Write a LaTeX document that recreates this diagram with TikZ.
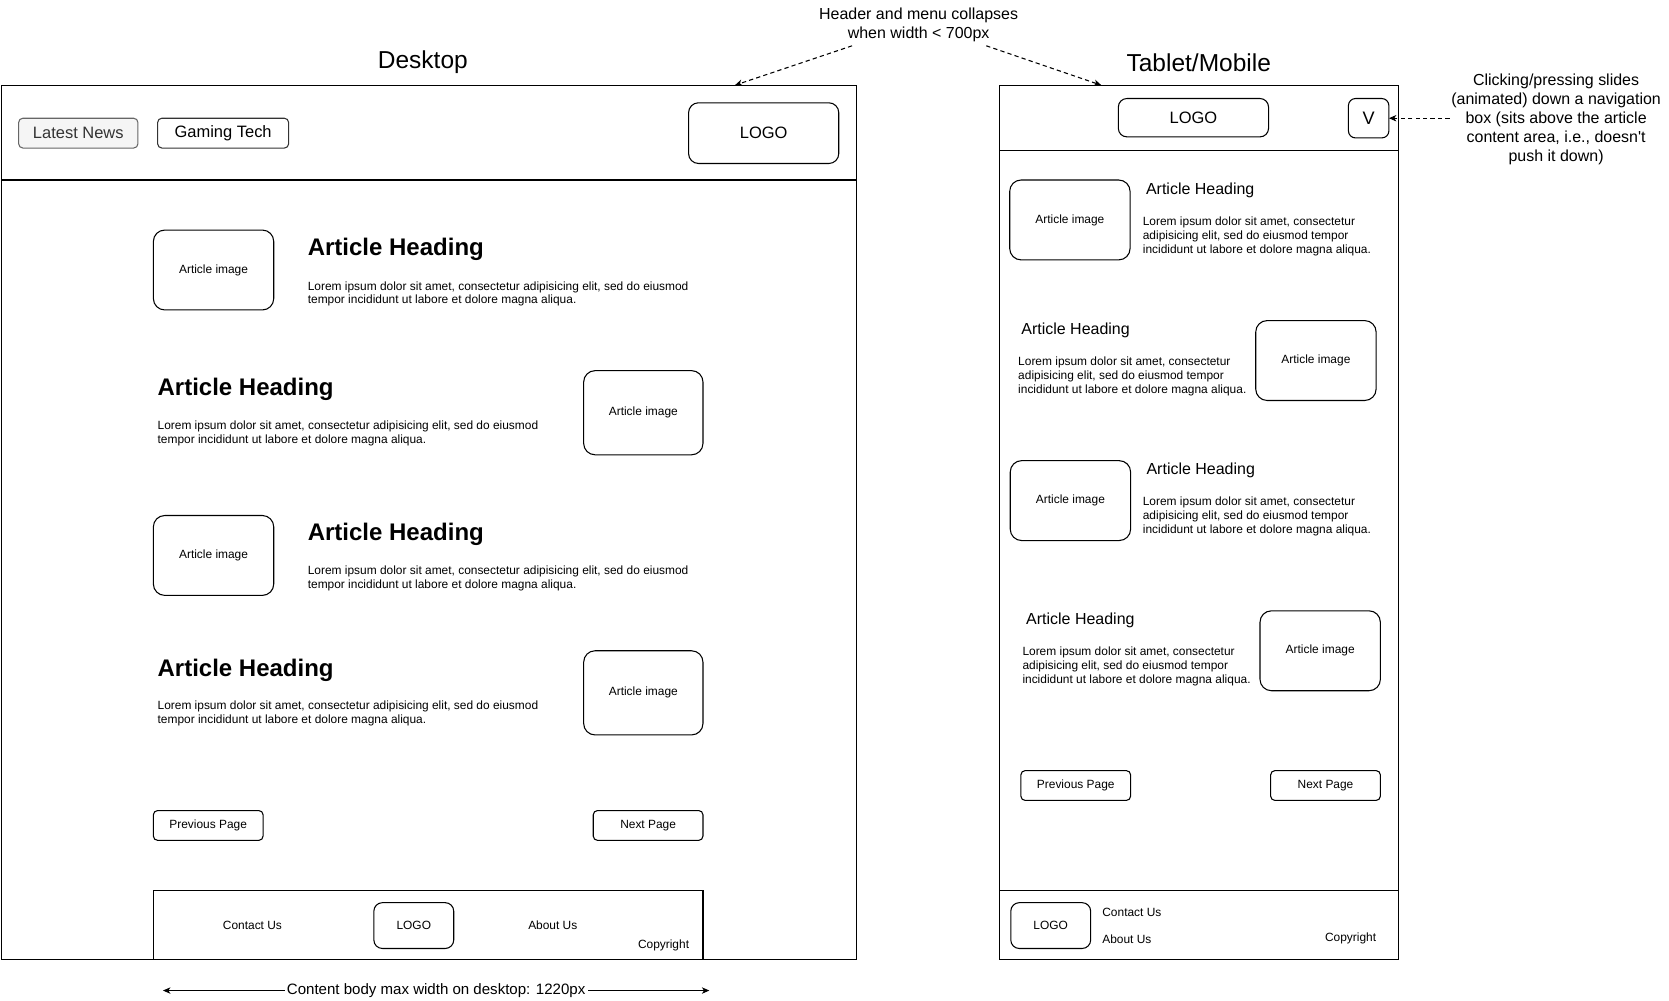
\documentclass[tikz,border=0pt]{standalone}
\usepackage{fontspec}
\setmainfont{Liberation Sans}[Ligatures=TeXOff]
\usetikzlibrary{arrows.meta}
\definecolor{btnfill}{HTML}{F5F5F5}
\definecolor{btnline}{HTML}{666666}
\definecolor{btntext}{HTML}{333333}
\begin{document}
\begin{tikzpicture}[x=0.75pt,y=-0.75pt,
 sz/.style 2 args={minimum width=#1*0.75pt, minimum height=#2*0.75pt},
 every node/.style={inner sep=0pt, outer sep=0pt},
 fsmall/.style={font=\fontsize{8.4pt}{9.75pt}\selectfont},
 fmid/.style={font=\fontsize{11.25pt}{13.5pt}\selectfont},
 fhdr/.style={font=\fontsize{11.6pt}{13.5pt}\selectfont},
 wframe/.style={draw, line width=0.75pt},
 rbox/.style={draw, line width=0.75pt, rounded corners=#1},
 imgbox/.style={rbox=8pt, sz={113}{75}, fsmall},
 pgbtn/.style={rbox=3pt, sz={103}{28}, fsmall},
 lorem/.style={fsmall, align=left, anchor=west},
 dhead/.style={font=\fontsize{16.9pt}{20pt}\selectfont\bfseries, anchor=west},
 thead/.style={fmid, anchor=west},
 ttl/.style={font=\fontsize{17.25pt}{20pt}\selectfont},
 notetext/.style={fmid, align=center},
 dasharrow/.style={draw, line width=0.75pt, dash pattern=on 3pt off 2.25pt, -{Stealth[length=5.25pt,width=4.5pt,inset=1.5pt]}},
 dimarrow/.style={draw, line width=0.75pt, {Stealth[length=5.25pt,width=4.5pt,inset=1.5pt]}-{Stealth[length=5.25pt,width=4.5pt,inset=1.5pt]}},
 ]
\useasboundingbox (0,0) rectangle (1567,939);

% ---------- titles and notes ----------
\node[ttl] (dtitle) at (397,58.5) {Desktop};
\node[ttl] (ttitle) at (1125.5,58.5) {Tablet/Mobile};
\node[notetext] (note1) at (862.5,23) {Header and menu collapses\\when width < 700px};
\node[notetext, font=\fontsize{11.25pt}{13.4pt}\selectfont] (note2) at (1461,112) {Clicking/pressing slides\\(animated) down a navigation\\box (sits above the article\\content area, i.e., doesn't\\push it down)};

% ---------- desktop frame ----------
\node[wframe, sz={803}{821}, anchor=north west] (dframe) at (1,80) {};
\draw[line width=0.75pt] (dframe.west |- 0,169) coordinate (dhl) -- (dframe.east |- 0,169) coordinate (dhr);
\node[rbox=3pt, sz={112}{28}, fill=btnfill, draw=btnline, text=btntext, fhdr] (latest) at (73.5,125) {Latest News};
\node[rbox=3pt, sz={123}{28}, draw=btntext, fhdr] (gaming) at (209.5,125) {Gaming Tech};
\node[rbox=7pt, sz={141}{57}, fhdr] (dlogo) at (717,125) {LOGO};

% desktop articles
\node[imgbox] (dimg1) at (200.5,253.5) {Article image};
\node[dhead] (dh1) at (289,234.5) {Article Heading};
\node[lorem] (dl1) at (289,276) {Lorem ipsum dolor sit amet, consectetur adipisicing elit, sed do eiusmod\\tempor incididunt ut labore et dolore magna aliqua.};

\node[dhead] (dh2) at (148,366) {Article Heading};
\node[lorem] (dl2) at (148,407) {Lorem ipsum dolor sit amet, consectetur adipisicing elit, sed do eiusmod\\tempor incididunt ut labore et dolore magna aliqua.};
\node[imgbox, sz={112}{79}] (dimg2) at (604,387.5) {Article image};

\node[imgbox] (dimg3) at (200.5,521.5) {Article image};
\node[dhead] (dh3) at (289,502) {Article Heading};
\node[lorem] (dl3) at (289,543) {Lorem ipsum dolor sit amet, consectetur adipisicing elit, sed do eiusmod\\tempor incididunt ut labore et dolore magna aliqua.};

\node[dhead] (dh4) at (148,629) {Article Heading};
\node[lorem] (dl4) at (148,670) {Lorem ipsum dolor sit amet, consectetur adipisicing elit, sed do eiusmod\\tempor incididunt ut labore et dolore magna aliqua.};
\node[imgbox, sz={112}{79}] (dimg4) at (604,650.5) {Article image};

\node[pgbtn] (dprev) at (195.5,775) {Previous Page};
\node[pgbtn] (dnext) at (608.5,775) {Next Page};

% desktop footer
\node[wframe, sz={516}{65}, anchor=north west] (dfoot) at (144,836) {};
\node[fsmall] (dcontact) at (237,869) {Contact Us};
\node[rbox=6pt, sz={75}{43}, fsmall] (dflogo) at (388.5,869) {LOGO};
\node[fsmall] (dabout) at (519,869) {About Us};
\node[fsmall] (dcopy) at (623,888) {Copyright};

% width dimension
\coordinate (wl) at (153,930);
\coordinate (wr) at (666,930);
\draw[dimarrow] (wl) -- (wr) node[midway, fill=white, inner xsep=1.5pt, inner ysep=1pt, font=\fontsize{10.6pt}{12pt}\selectfont] (wlabel) {Content body max width on desktop: 1220px};

% ---------- tablet frame ----------
\node[wframe, sz={375}{821}, anchor=north west] (tframe) at (938,80) {};
\draw[line width=0.75pt] (tframe.west |- 0,141) coordinate (thl) -- (tframe.east |- 0,141) coordinate (thr);
\node[rbox=6pt, sz={141}{36}, fhdr] (tlogo) at (1120.5,110.5) {LOGO};
\node[rbox=5pt, sz={38}{37}, font=\fontsize{12.75pt}{15pt}\selectfont] (vbtn) at (1285,111) {V};

\node[imgbox] (timg1) at (1004.5,206.5) {Article image};
\node[thead] (th1) at (1076,179) {Article Heading};
\node[lorem] (tl1) at (1073,222) {Lorem ipsum dolor sit amet, consectetur\\adipisicing elit, sed do eiusmod tempor\\incididunt ut labore et dolore magna aliqua.};

\node[thead] (th2) at (959,310) {Article Heading};
\node[lorem] (tl2) at (956,353.5) {Lorem ipsum dolor sit amet, consectetur\\adipisicing elit, sed do eiusmod tempor\\incididunt ut labore et dolore magna aliqua.};
\node[imgbox] (timg2) at (1235.5,338.5) {Article image};

\node[imgbox] (timg3) at (1005,470) {Article image};
\node[thead] (th3) at (1076.5,442) {Article Heading};
\node[lorem] (tl3) at (1073,485) {Lorem ipsum dolor sit amet, consectetur\\adipisicing elit, sed do eiusmod tempor\\incididunt ut labore et dolore magna aliqua.};

\node[thead] (th4) at (963.5,582) {Article Heading};
\node[lorem] (tl4) at (960,625.5) {Lorem ipsum dolor sit amet, consectetur\\adipisicing elit, sed do eiusmod tempor\\incididunt ut labore et dolore magna aliqua.};
\node[imgbox] (timg4) at (1239.5,611) {Article image};

\node[pgbtn] (tprev) at (1010,737.5) {Previous Page};
\node[pgbtn] (tnext) at (1244.5,737.5) {Next Page};

% tablet footer
\draw[line width=0.75pt] (tframe.west |- 0,836) coordinate (tfl) -- (tframe.east |- 0,836) coordinate (tfr);
\node[rbox=6pt, sz={75}{43}, fsmall] (tflogo) at (986.5,869) {LOGO};
\node[fsmall, anchor=west] (tcontact) at (1035,857) {Contact Us};
\node[fsmall, anchor=west] (tabout) at (1035,881.5) {About Us};
\node[fsmall, anchor=east] (tcopy) at (1292,881.5) {Copyright};

% ---------- connectors ----------
\coordinate (n1l) at (800,43);
\coordinate (n1r) at (926,43);
\coordinate (dtop) at (690,80);
\coordinate (ttop) at (1034,80);
\coordinate (n2l) at (1361,111);
\draw[dasharrow] (n1l) -- (dtop);
\draw[dasharrow] (n1r) -- (ttop);
\draw[dasharrow] (n2l) -- (vbtn.east);
\end{tikzpicture}
\end{document}
